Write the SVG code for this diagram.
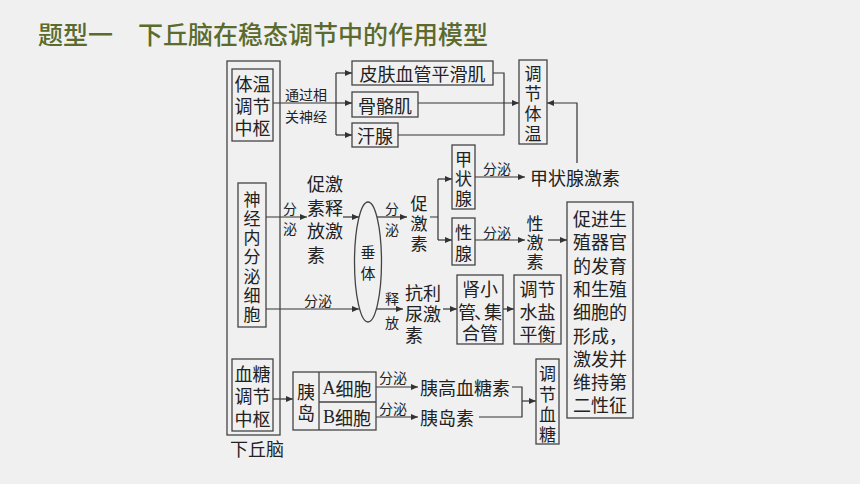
<svg xmlns="http://www.w3.org/2000/svg" width="860" height="484" viewBox="0 0 860 484">
<style>
.bx{fill:none;stroke:#444;stroke-width:1.3}
.ln{fill:none;stroke:#333;stroke-width:1.2}
.ar{fill:none;stroke:#333;stroke-width:1.2;marker-end:url(#ah)}
.t{font-family:"Noto Sans CJK SC","Liberation Serif",serif;font-size:18px;fill:#222;text-anchor:middle;dominant-baseline:central}
.v{font-size:17px}
.s{font-family:"Noto Sans CJK SC","Liberation Serif",serif;font-size:14px;fill:#222;text-anchor:middle;dominant-baseline:central}
.st{text-anchor:start}
.title{font-family:"Noto Sans CJK SC",sans-serif;font-size:25px;fill:#5a6b2d;dominant-baseline:central;font-weight:500}
</style>
<defs>
<marker id="ah" markerUnits="userSpaceOnUse" markerWidth="8" markerHeight="6" refX="7" refY="3" orient="auto">
<path d="M0,0 L7,3 L0,6 z" fill="#333"/>
</marker>
</defs>
<rect x="0" y="0" width="860" height="484" fill="#f0f0f0"/>
<text class="title" x="38" y="33">题型一　下丘脑在稳态调节中的作用模型</text>

<g id="connectors">
<path class="ln" d="M273,103 H336 M336,73 V135"/>
<path class="ar" d="M336,73 H352"/>
<path class="ar" d="M336,103 H352"/>
<path class="ar" d="M336,135 H352"/>
<path class="ln" d="M493,73 H504 V135 H398"/>
<path class="ar" d="M418,103 H519"/>
<path class="ar" d="M577,163 V103 H547"/>
<path class="ar" d="M266,217 H307"/>
<path class="ar" d="M343,217 H359"/>
<path class="ar" d="M377,217 H407"/>
<path class="ln" d="M430,217 H438 M438,179 V240"/>
<path class="ar" d="M438,179 H452"/>
<path class="ar" d="M438,240 H452"/>
<path class="ar" d="M475,177 H525"/>
<path class="ar" d="M475,240 H525"/>
<path class="ar" d="M548,240 H567"/>
<path class="ar" d="M266,309 H359"/>
<path class="ar" d="M376,309 H403"/>
<path class="ar" d="M443,309 H457"/>
<path class="ar" d="M503,309 H514"/>
<path class="ar" d="M273,399 H293"/>
<path class="ar" d="M376,387 H418"/>
<path class="ar" d="M376,417 H418"/>
<path class="ln" d="M512,387 H522 V417 H479"/>
<path class="ar" d="M522,401 H536"/>
<text class="s" x="306" y="94">通过相</text>
<text class="s" x="306" y="116">关神经</text>
<text class="s" x="290" y="208">分</text>
<text class="s" x="290" y="228">泌</text>
<text class="s" x="392" y="208">分</text>
<text class="s" x="392" y="229">泌</text>
<text class="s" x="497" y="168">分泌</text>
<text class="s" x="497" y="232">分泌</text>
<text class="s" x="318" y="300">分泌</text>
<text class="s" x="392" y="298">释</text>
<text class="s" x="392" y="322">放</text>
<text class="s" x="393" y="377">分泌</text>
<text class="s" x="393" y="408">分泌</text>
</g>

<g id="hypothalamus">
<rect class="bx" x="227" y="61" width="53" height="374"/>
<text class="t st" x="230" y="448">下丘脑</text>
</g>
<g id="thermo-center">
<rect class="bx" x="232" y="69" width="41" height="72"/>
<text class="t" x="252.5" y="83">体温</text>
<text class="t" x="252.5" y="105">调节</text>
<text class="t" x="252.5" y="127">中枢</text>
</g>
<g id="skin-vessel">
<rect class="bx" x="352" y="61" width="141" height="24"/>
<text class="t" x="422.5" y="73">皮肤血管平滑肌</text>
</g>
<g id="skeletal-muscle">
<rect class="bx" x="352" y="92" width="66" height="25"/>
<text class="t" x="385" y="104.5">骨骼肌</text>
</g>
<g id="sweat-gland">
<rect class="bx" x="352" y="123" width="46" height="24"/>
<text class="t" x="375" y="135">汗腺</text>
</g>
<g id="regulate-temp">
<rect class="bx" x="519" y="60" width="28" height="84"/>
<text class="t v" x="533" y="72">调</text>
<text class="t v" x="533" y="92">节</text>
<text class="t v" x="533" y="112">体</text>
<text class="t v" x="533" y="132">温</text>
</g>
<g id="neuro-cell">
<rect class="bx" x="238" y="183" width="28" height="144"/>
<text class="t v" x="252" y="198">神</text>
<text class="t v" x="252" y="217">经</text>
<text class="t v" x="252" y="236">内</text>
<text class="t v" x="252" y="255">分</text>
<text class="t v" x="252" y="275">泌</text>
<text class="t v" x="252" y="294">细</text>
<text class="t v" x="252" y="313">胞</text>
</g>
<g id="trh">
<text class="t st" x="307" y="183">促激</text>
<text class="t st" x="307" y="206.5">素释</text>
<text class="t st" x="307" y="230">放激</text>
<text class="t st" x="307" y="253.5">素</text>
</g>
<g id="pituitary">
<ellipse class="bx" cx="368" cy="262" rx="13.5" ry="60"/>
<text class="t" x="368" y="251" style="font-size:15px">垂</text>
<text class="t" x="368" y="272" style="font-size:15px">体</text>
</g>
<g id="tropic-hormone">
<text class="t v" x="419" y="202">促</text>
<text class="t v" x="419" y="222">激</text>
<text class="t v" x="419" y="242">素</text>
</g>
<g id="thyroid">
<rect class="bx" x="452" y="145" width="23" height="64"/>
<text class="t v" x="463.5" y="158">甲</text>
<text class="t v" x="463.5" y="177">状</text>
<text class="t v" x="463.5" y="197">腺</text>
</g>
<g id="gonad">
<rect class="bx" x="452" y="218" width="23" height="47"/>
<text class="t v" x="463.5" y="231">性</text>
<text class="t v" x="463.5" y="252">腺</text>
</g>
<g id="thyroxine">
<text class="t st" x="530" y="177">甲状腺激素</text>
</g>
<g id="sex-hormone">
<text class="t v" x="535" y="222">性</text>
<text class="t v" x="535" y="241">激</text>
<text class="t v" x="535" y="260">素</text>
</g>
<g id="sex-effect">
<rect class="bx" x="567" y="202" width="66" height="216"/>
<text class="t" x="600" y="218">促进生</text>
<text class="t" x="600" y="241.3">殖器官</text>
<text class="t" x="600" y="264.6">的发育</text>
<text class="t" x="600" y="287.9">和生殖</text>
<text class="t" x="600" y="311.2">细胞的</text>
<text class="t" x="600" y="334.5">形成，</text>
<text class="t" x="600" y="357.8">激发并</text>
<text class="t" x="600" y="381.1">维持第</text>
<text class="t" x="600" y="404.4">二性征</text>
</g>
<g id="adh">
<text class="t st" x="405" y="292">抗利</text>
<text class="t st" x="405" y="313">尿激</text>
<text class="t st" x="405" y="334">素</text>
</g>
<g id="kidney">
<rect class="bx" x="457" y="275" width="46" height="69"/>
<text class="t" x="480" y="288">肾小</text>
<text class="t st" x="458 474 484" y="311">管、集</text>
<text class="t" x="480" y="332">合管</text>
</g>
<g id="water-salt">
<rect class="bx" x="514" y="275" width="47" height="69"/>
<text class="t" x="537.5" y="288">调节</text>
<text class="t" x="537.5" y="311">水盐</text>
<text class="t" x="537.5" y="333">平衡</text>
</g>
<g id="glucose-center">
<rect class="bx" x="232" y="359" width="41" height="72"/>
<text class="t" x="252.5" y="373">血糖</text>
<text class="t" x="252.5" y="395">调节</text>
<text class="t" x="252.5" y="418">中枢</text>
</g>
<g id="islet">
<rect class="bx" x="293" y="372" width="83" height="58"/>
<path class="bx" d="M319,372 V430 M319,402 H376"/>
<text class="t" x="306" y="391">胰</text>
<text class="t" x="306" y="412">岛</text>
<text class="t" x="347" y="388"><tspan font-family="Liberation Serif">A</tspan>细胞</text>
<text class="t" x="347" y="417"><tspan font-family="Liberation Serif">B</tspan>细胞</text>
</g>
<g id="glucagon">
<text class="t st" x="420" y="387">胰高血糖素</text>
</g>
<g id="insulin">
<text class="t st" x="420" y="417">胰岛素</text>
</g>
<g id="regulate-glucose">
<rect class="bx" x="536" y="359" width="23" height="85"/>
<text class="t v" x="547.5" y="372">调</text>
<text class="t v" x="547.5" y="393">节</text>
<text class="t v" x="547.5" y="413">血</text>
<text class="t v" x="547.5" y="433">糖</text>
</g>
</svg>
